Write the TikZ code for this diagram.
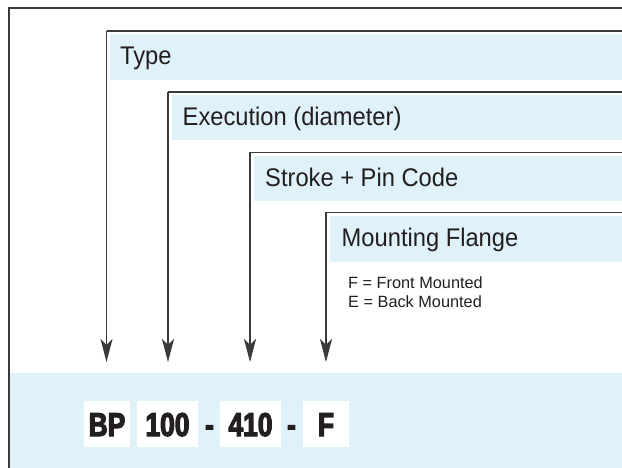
\documentclass[tikz,border=0pt]{standalone}
\usepackage{fontspec}
\setmainfont{Liberation Sans}
\newfontfamily\labelfont[FakeStretch=0.93]{Liberation Sans}
\newfontfamily\codefont[FakeStretch=0.8,FakeBold=3.5]{Liberation Sans Bold}
\usetikzlibrary{arrows.meta}
\definecolor{bandblue}{RGB}{223,241,249}
\definecolor{linegray}{RGB}{58,58,58}
\definecolor{ink}{RGB}{35,31,32}
\tikzset{
  label/.style={anchor=base west, inner sep=0pt, text=ink, font=\labelfont\fontsize{25.5}{30}\selectfont},
  small/.style={anchor=base west, inner sep=0pt, text=ink, font=\fontsize{16.3}{20}\selectfont},
  bracket/.style={draw=linegray, line width=1.3pt, -{Stealth[length=23pt,width=12pt,inset=6pt]}},
  topline/.style={draw=linegray, line width=1.3pt},
  codebox/.style={fill=white, draw=none, minimum height=46pt, inner sep=0pt, text height=24pt, text depth=0pt, font=\codefont\fontsize{33}{36}\selectfont, text=ink},
  sepdash/.style={inner sep=0pt, text height=24pt, text depth=0pt, font=\codefont\fontsize{33}{36}\selectfont, text=ink}
}
\begin{document}
\begin{tikzpicture}[x=1pt,y=-1pt]
\useasboundingbox (0,0) rectangle (622,468);
\fill[white] (0,0) rectangle (622,468);
% bottom band
\fill[bandblue] (10,373) rectangle (622,468);
% frame
\draw[linegray, line width=2.2pt] (9,468) -- (9,8) -- (622,8);
% bands
\fill[bandblue] (110,34.5) rectangle (622,80.5);
\fill[bandblue] (172,95) rectangle (622,140.5);
\fill[bandblue] (254,156) rectangle (622,201.5);
\fill[bandblue] (330,216) rectangle (622,262);
% labels
\node[label] (type) at (120,64.5) {Type};
\node[label] (exec) at (182.5,125.5) {Execution (diameter)};
\node[label] (stroke) at (265,186.5) {Stroke + Pin Code};
\node[label] (mount) at (341.5,247) {Mounting Flange};
\node[small] (f) at (348,288) {F = Front Mounted};
\node[small] (e) at (348,308) {E = Back Mounted};
% corners and tips
\coordinate (c1) at (106.5,31);  \coordinate (r1) at (622,31);  \coordinate (t1) at (106.5,362);
\coordinate (c2) at (168,92);    \coordinate (r2) at (622,92);  \coordinate (t2) at (168,362);
\coordinate (c3) at (250,152.5); \coordinate (r3) at (622,152.5); \coordinate (t3) at (250,362);
\coordinate (c4) at (326,212.5); \coordinate (r4) at (622,212.5); \coordinate (t4) at (326,362);
\draw[topline] (r1) -- (c1);
\draw[topline] (r2) -- (c2);
\draw[topline] (r3) -- (c3);
\draw[topline] (r4) -- (c4);
\draw[bracket] (c1) -- (t1);
\draw[bracket] (c2) -- (t2);
\draw[bracket] (c3) -- (t3);
\draw[bracket] (c4) -- (t4);
% code boxes
\node[codebox, minimum width=46pt] (bp) at (107,424) {BP};
\node[codebox, minimum width=60.5pt] (n100) at (167.5,424) {100};
\node[sepdash] (d1) at (209.5,424) {-};
\node[codebox, minimum width=60.5pt] (n410) at (250.5,424) {410};
\node[sepdash] (d2) at (291.5,424) {-};
\node[codebox, minimum width=46pt] (fl) at (326,424) {F};
\end{tikzpicture}
\end{document}
